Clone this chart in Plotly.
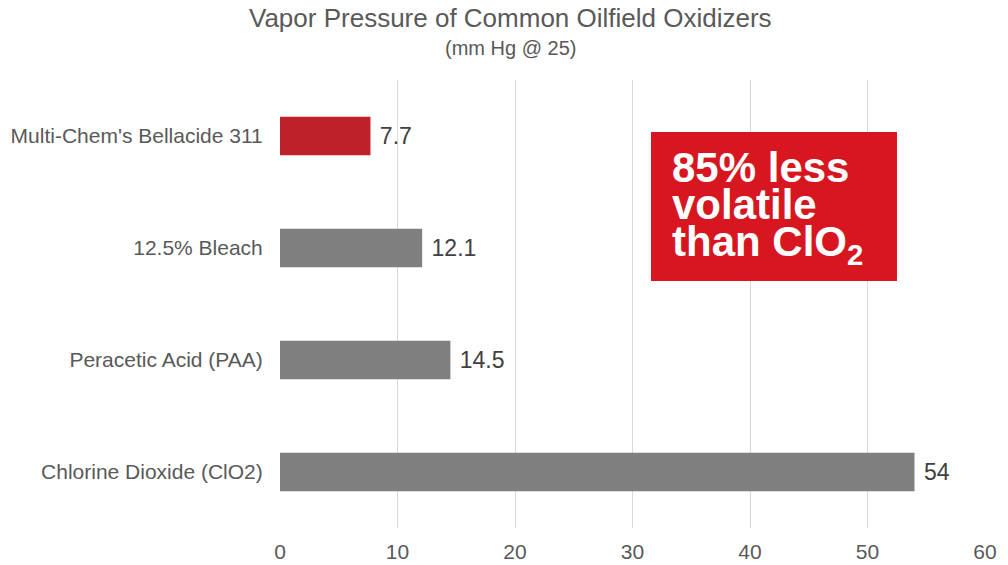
import plotly.graph_objects as go

categories = ["Multi-Chem's Bellacide 311", "12.5% Bleach", "Peracetic Acid (PAA)", "Chlorine Dioxide (ClO2)"]
values = [7.7, 12.1, 14.5, 54]
value_labels = ["7.7", "12.1", "14.5", "54"]
colors = ["#C0202A", "#7F7F7F", "#7F7F7F", "#7F7F7F"]
x_ticks = [0, 10, 20, 30, 40, 50, 60]
title_text = "Vapor Pressure of Common Oilfield Oxidizers"
subtitle_text = "(mm Hg @ 25)"
callout_lines = ["85% less", "volatile", "than ClO<sub>2</sub>"]

FONT = "Liberation Sans, Arial"

fig = go.Figure()
fig.add_trace(go.Bar(
    y=categories, x=values, orientation="h",
    marker=dict(color=colors, line=dict(width=0)),
    text=["\u00a0" + t for t in value_labels], textposition="outside", cliponaxis=False,
    textfont=dict(family=FONT, size=23, color="#404040"),
    width=0.345,
))

fig.update_layout(
    width=1008, height=565,
    margin=dict(l=280, r=23, t=80, b=37),
    paper_bgcolor="white", plot_bgcolor="white",
    showlegend=False,
    font=dict(family=FONT, color="#595959"),
    xaxis=dict(
        range=[0, 60], tickvals=x_ticks, showgrid=True, gridcolor="#D9D9D9", gridwidth=1,
        zeroline=False, showline=False, automargin=False,
        ticks="outside", ticklen=5, tickcolor="rgba(0,0,0,0)",
        tickfont=dict(size=21, color="#595959"),
    ),
    yaxis=dict(
        categoryorder="array", categoryarray=categories[::-1],
        showgrid=False, zeroline=False, showline=False, automargin=False,
        ticks="outside", ticklen=12, tickcolor="rgba(0,0,0,0)",
        tickfont=dict(size=21, color="#595959"),
    ),
)

# title and subtitle
fig.add_annotation(xref="paper", yref="paper", x=(510-280)/705, y=(528-18)/448,
                   xanchor="center", yanchor="middle", showarrow=False,
                   text=title_text, font=dict(family=FONT, size=26, color="#595959"))
fig.add_annotation(xref="paper", yref="paper", x=(510-280)/705, y=(528-48)/448,
                   xanchor="center", yanchor="middle", showarrow=False,
                   text=subtitle_text, font=dict(family=FONT, size=20, color="#595959"))

fig.add_shape(type="rect", xref="paper", yref="paper",
              x0=(651-280)/705, x1=(897-280)/705,
              y0=(528-281)/448, y1=(528-132)/448,
              fillcolor="#D7161F", line=dict(width=0), layer="above")

line_centers = [167, 204, 244]
for txt, cy in zip(callout_lines, line_centers):
    fig.add_annotation(
        xref="paper", yref="paper",
        x=(670-280)/705, y=(528-cy)/448,
        xanchor="left", yanchor="middle",
        text="<b>" + txt + "</b>", showarrow=False,
        font=dict(family=FONT, size=42, color="white"),
    )

fig.write_html("out.html", config={"displayModeBar": False},
               post_script="document.body.style.margin='0px';")
